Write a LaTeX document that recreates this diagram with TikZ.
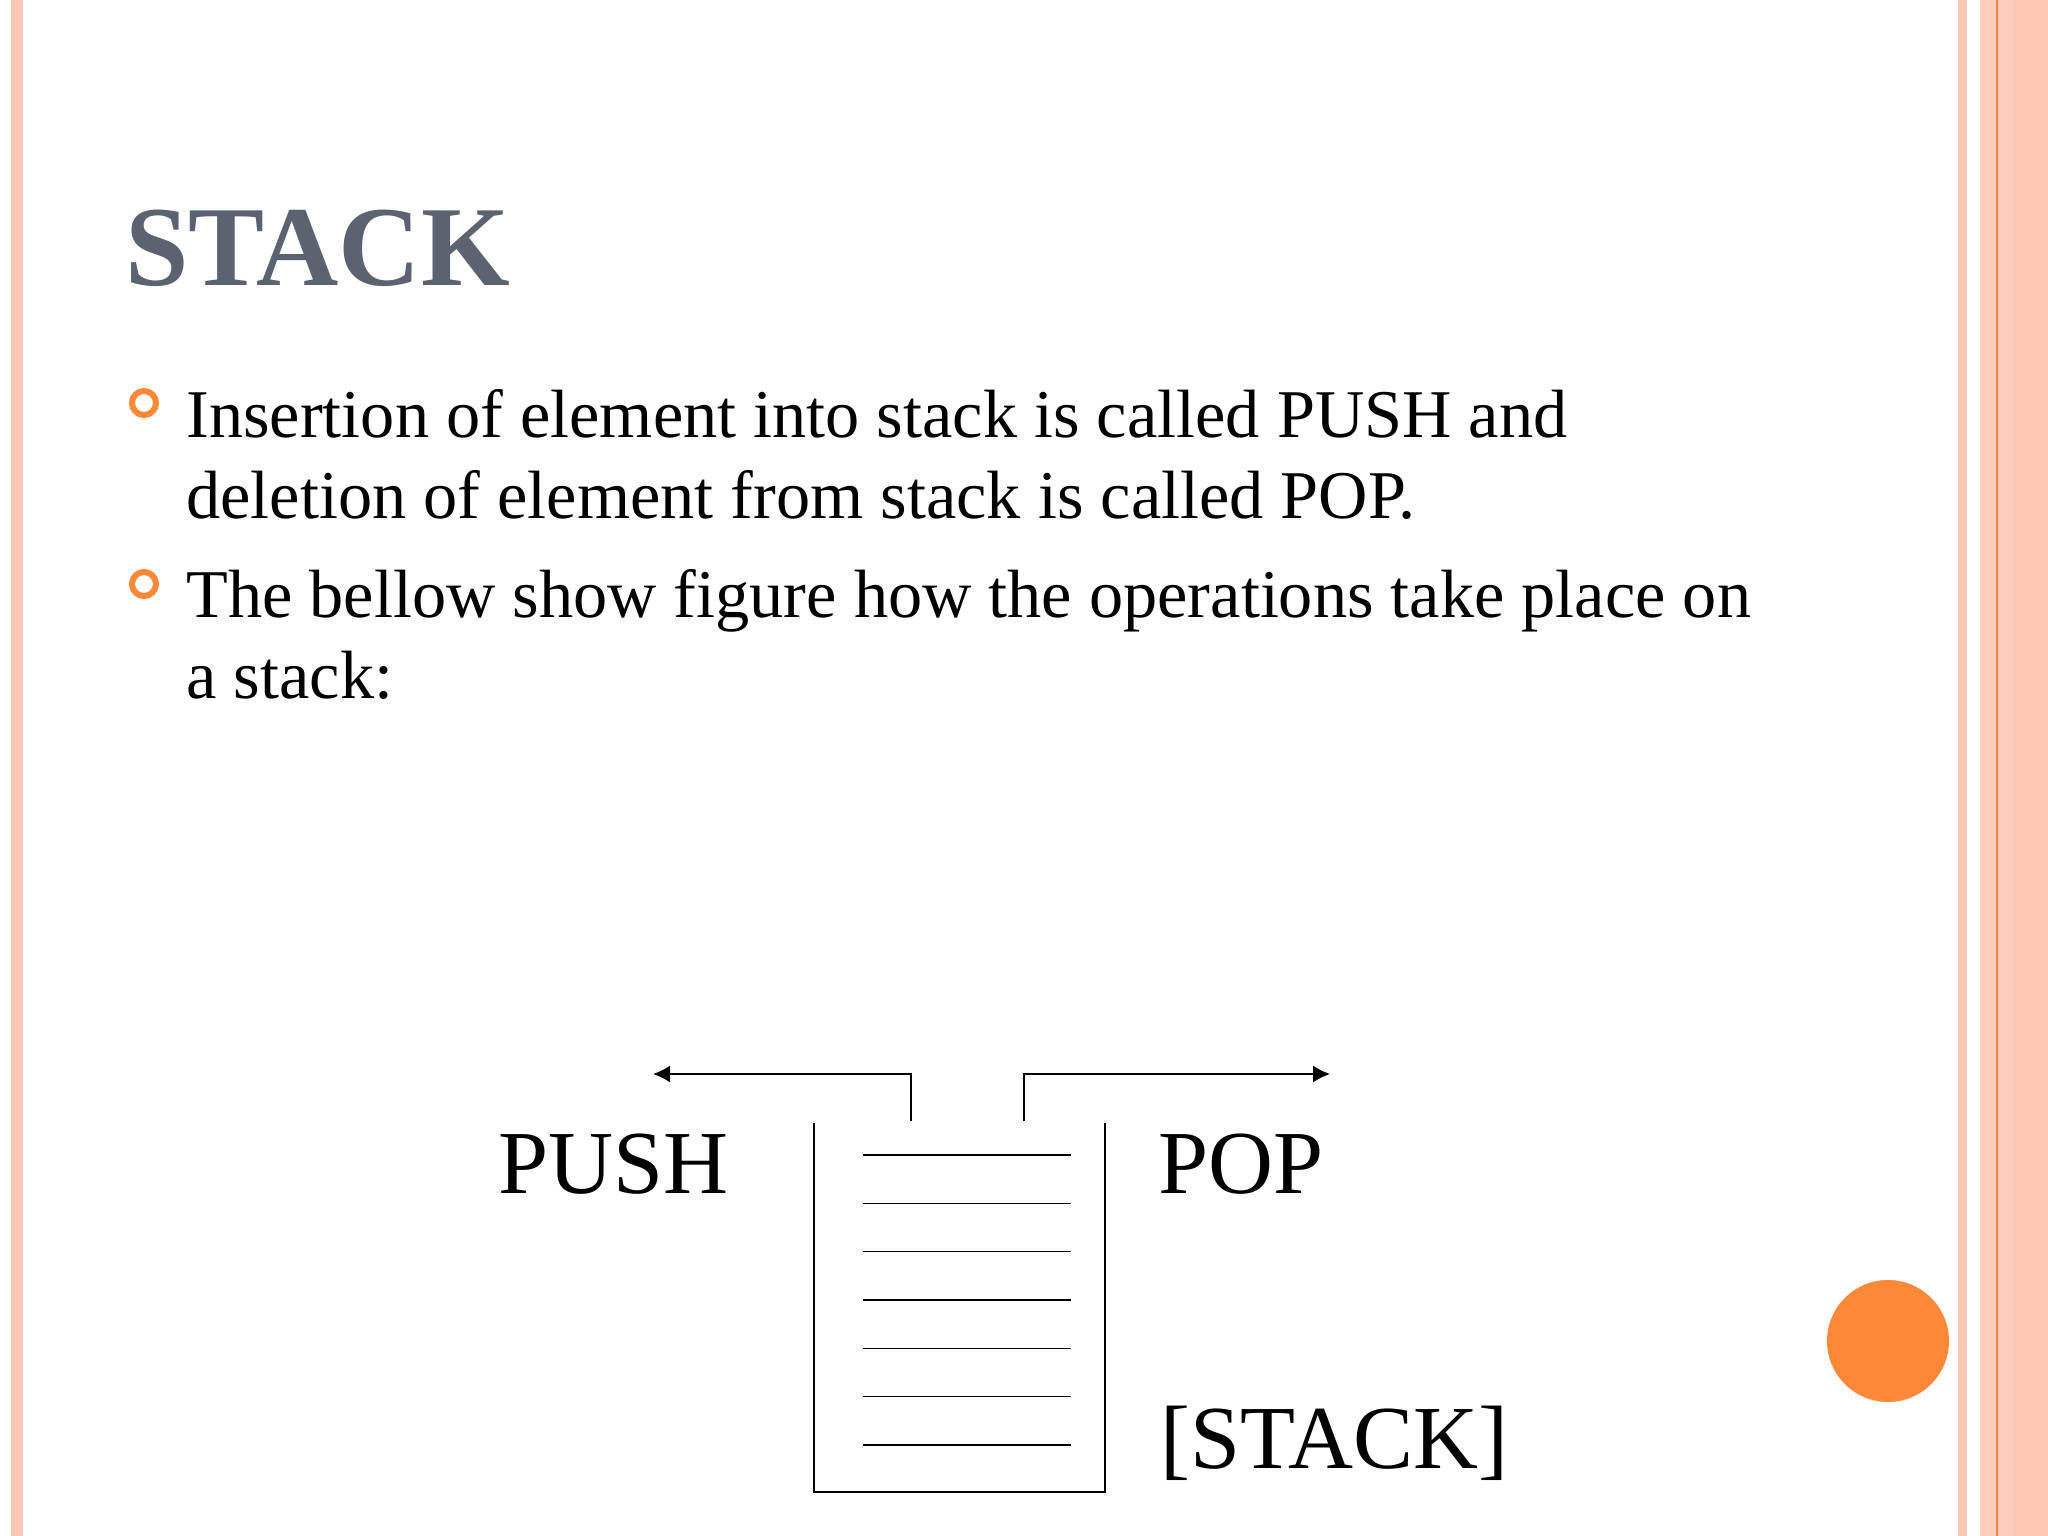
\documentclass[tikz,border=0pt]{standalone}
\usepackage{fontspec}
\setmainfont{Liberation Serif}
\usetikzlibrary{arrows.meta}
\definecolor{titlegray}{HTML}{5B6370}
\definecolor{dotorange}{HTML}{FD8837}
\definecolor{barpink}{HTML}{FCC8B4}
\definecolor{barpale}{HTML}{FDCEBC}
\definecolor{barline}{HTML}{F3823F}
\begin{document}
\begin{tikzpicture}[x=1pt, y=-1pt, thick,
        wall/.style={line width=1.6pt},
        arrow line/.style={line width=1.6pt, -{Latex[length=17pt,width=17pt]}},
        body/.style={anchor=base west, inner sep=0pt, font=\fontsize{68.3}{81}\selectfont},
        big label/.style={anchor=base west, inner sep=0pt, font=\fontsize{90}{100}\selectfont},
        ring/.style={draw=dotorange, line width=6pt, circle, minimum size=24pt, inner sep=0pt}]
    % page and side bars
    \fill[white] (0,0) rectangle (2048,1536);
    \useasboundingbox (0,0) rectangle (2048,1536);
    \fill[barpink] (11,0) rectangle (23,1536);
    \fill[barpink] (1958,0) rectangle (1967,1536);
    \fill[barpale] (1980,0) rectangle (2048,1536);
    \fill[barpink] (2013,0) rectangle (2048,1536);
    \draw[barline, line width=2pt] (1997,0) -- (1997,1536);
    \fill[dotorange] (1888,1341) circle (61pt);
    % title and bullets
    \node (title) [anchor=base west, inner sep=0pt, text=titlegray, font=\fontsize{114}{120}\selectfont\bfseries] at (125,285) {STACK};
    \node[ring] (b1) at (144,403) {};
    \node[ring] (b2) at (144,584) {};
    \node[body] (l1) at (186,437) {Insertion of element into stack is called PUSH and};
    \node[body] (l2) at (186,518) {deletion of element from stack is called POP.};
    \node[body] (l3) at (186,617) {The bellow show figure how the operations take place on};
    \node[body] (l4) at (186,698) {a stack:};
    % stack
    \draw[wall] (814,1123) |- (1105,1492) -- (1105,1123);
    \foreach \i in {0,...,6}
        \draw[wall] (863,{1155+48.33*\i}) -- (1071,{1155+48.33*\i});
    \coordinate (pushfoot) at (911,1121);
    \coordinate (pushend) at (653,1074);
    \coordinate (popfoot) at (1024,1121);
    \coordinate (popend) at (1330,1074);
    \draw[arrow line] (pushfoot) |- (pushend);
    \draw[arrow line] (popfoot) |- (popend);
    \node[big label] (push) at (498,1193) {PUSH};
    \node[big label] (pop) at (1158,1193) {POP};
    \node[big label] (stack) at (1160,1468) {[STACK]};
\end{tikzpicture}
\end{document}
